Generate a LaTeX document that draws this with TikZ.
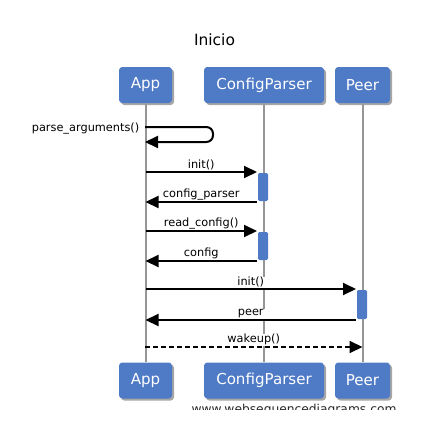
\documentclass[tikz,border=0pt]{standalone}
\usepackage{fontspec}
\setmainfont{DejaVu Sans}
\usetikzlibrary{arrows.meta,shadows}
\definecolor{wsdblue}{RGB}{79,122,197}
\definecolor{lifegray}{RGB}{150,150,150}
\tikzset{every picture/.style={line width=1.5pt}}
\tikzset{
  partbox/.style={fill=wsdblue, rounded corners=2.5pt, text=white, minimum height=27pt, inner sep=0pt,
    font=\fontsize{11.3}{13}\selectfont,
    drop shadow={shadow xshift=1.5pt, shadow yshift=-1.5pt, fill=black, opacity=0.35}},
  actbox/.style={fill=wsdblue, rounded corners=1pt, minimum width=7.5pt, inner sep=0pt, anchor=north},
  msg/.style={-{Triangle[length=9.75pt,width=9pt]}},
  lbl/.style={fill=white, inner xsep=1.5pt, inner ysep=0.5pt, anchor=south, font=\fontsize{8.5}{10}\selectfont},
  lifeline/.style={draw=lifegray}
}
\begin{document}
\begin{tikzpicture}[x=0.75pt,y=0.75pt,yscale=-1,xscale=1]
\useasboundingbox (0,0) rectangle (424,429);

% Title
\node (title) at (214.5,40) {\fontsize{11.6}{14}\selectfont Inicio};

%Shape: participants, top
\node [partbox, minimum width=39.75pt] (app) at (145.5,85) {App};
\node [partbox, minimum width=90pt] (cfg) at (264,85) {ConfigParser};
\node [partbox, minimum width=41.25pt] (peer) at (362.5,85) {Peer};
%Shape: participants, bottom
\node [partbox, minimum width=39.75pt] (appb) at (145.5,380.5) {App};
\node [partbox, minimum width=90pt] (cfgb) at (264,380.5) {ConfigParser};
\node [partbox, minimum width=41.25pt] (peerb) at (362.5,380.5) {Peer};

%Straight Lines: lifelines
\draw [lifeline] (app.south) -- (appb.north);
\draw [lifeline] (cfg.south) -- (cfgb.north);
\draw [lifeline] (peer.south) -- (peerb.north);

%Shape: activations
\node [actbox, minimum height=21pt] (act1) at (263,172) {};
\node [actbox, minimum height=21pt] (act2) at (263,231) {};
\node [actbox, minimum height=21.75pt] (act3) at (362,289) {};

% message points on the App lifeline
\coordinate (self) at (145,127);
\coordinate (wake) at (145,347);

%Curve Lines: parse_arguments()
\draw [msg, rounded corners=5pt] (self) -- (213,127) -- (213,142) -- (self |- 0,142);
% Text Node
\node [anchor=east, inner sep=0.5pt, font=\fontsize{8.5}{10}\selectfont] (lself) at (141,128.5) {parse\_arguments()};

%Straight Lines: ConfigParser
\draw [msg] (act1.north west -| app) -- (act1.north west) node [lbl, midway] (l1) {init()};
\draw [msg] (act1.south west) -- (act1.south west -| app) node [lbl, midway] (l2) {config\_parser};
\draw [msg] (act2.north west -| app) -- (act2.north west) node [lbl, midway] (l3) {read\_config()};
\draw [msg] (act2.south west) -- (act2.south west -| app) node [lbl, midway] (l4) {config};

%Straight Lines: Peer
\draw [msg] (act3.north west -| app) -- (act3.north west) node [lbl, midway] (l5) {init()};
\draw [msg] (act3.south west) -- (act3.south west -| app) node [lbl, midway] (l6) {peer};
\draw [msg, dash pattern=on 3.75pt off 2.25pt] (wake) -- (wake -| peer) node [lbl, midway] (l7) {wakeup()};

% Text Node: watermark, cut at the bottom
\begin{scope}
\clip (150,395) rectangle (424,409);
\node [anchor=base, inner sep=0pt, text=black!85, font=\fontsize{9.2}{11}\selectfont] (mark) at (294,413) {www.websequencediagrams.com};
\end{scope}

\end{tikzpicture}
\end{document}
